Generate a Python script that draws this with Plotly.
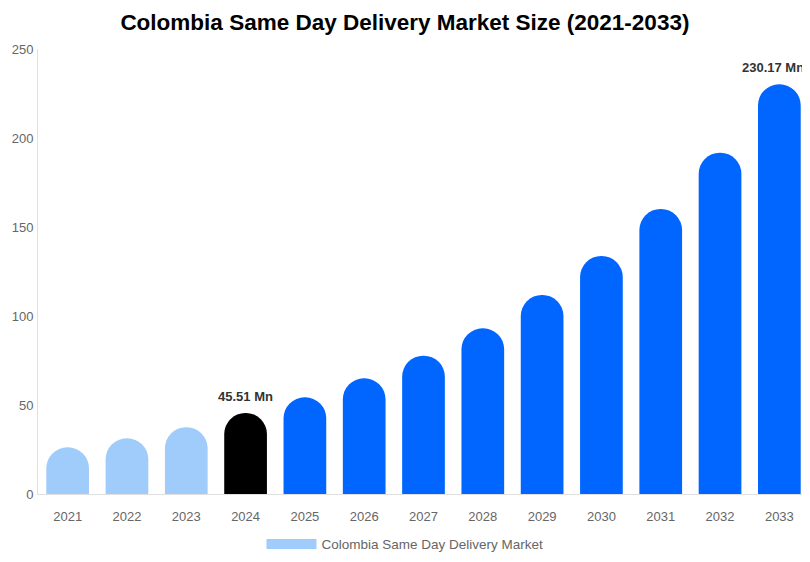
import plotly.graph_objects as go

years = ["2021", "2022", "2023", "2024", "2025", "2026", "2027",
         "2028", "2029", "2030", "2031", "2032", "2033"]
market_size = [26.2, 31.3, 37.5, 45.51, 54.3, 65.0, 77.7,
               93.1, 111.8, 133.7, 160.1, 191.7, 230.17]
bar_colors = ["#A0CCFB"] * 3 + ["#000000"] + ["#0066FF"] * 9
labeled_years = ["2024", "2033"]
series_name = "Colombia Same Day Delivery Market"

fig = go.Figure()
fig.add_trace(
    go.Bar(
        x=years,
        y=market_size,
        name=series_name,
        marker=dict(color=bar_colors, cornerradius="50%", line=dict(width=0)),
        width=0.72,
        showlegend=False,
        hoverinfo="x+y",
    )
)

# entrada de leyenda con rectangulo ancho
fig.add_trace(
    go.Scatter(
        x=[None], y=[None], mode="lines", name=series_name,
        line=dict(color=bar_colors[0], width=14),
        showlegend=True, hoverinfo="skip",
    )
)

# etiquetas de valor (en eje de categorias se usa el indice)
for yr, dx in zip(labeled_years, [0, -6]):
    i = years.index(yr)
    val = market_size[i]
    fig.add_annotation(
        x=i, y=val, text="<b>%.2f Mn</b>" % val,
        showarrow=False, yanchor="bottom", yshift=7, xshift=dx,
        font=dict(family="Liberation Sans, Arial", size=13, color="#333333"),
    )

fig.update_layout(
    title=dict(
        text="<b>Colombia Same Day Delivery Market Size (2021-2033)</b>",
        x=0.49, xanchor="center", y=0.975, yanchor="middle",
        font=dict(family="Liberation Sans, Arial", size=22.5, color="#000000"),
    ),
    width=810,
    height=562,
    margin=dict(l=30, r=9, t=41, b=76),
    plot_bgcolor="white",
    paper_bgcolor="white",
    font=dict(family="Liberation Sans, Arial", size=13, color="#666666"),
    legend=dict(
        orientation="h", x=0.476, xanchor="center", y=-0.078, yanchor="top",
        itemwidth=50,
        font=dict(size=13.5, color="#666666"),
    ),
    xaxis=dict(
        type="category", automargin=False,
        showgrid=False, showline=True, linecolor="#E0E0E0", linewidth=1,
        ticks="", ticklabelstandoff=10, tickfont=dict(size=13, color="#666666"),
    ),
    yaxis=dict(
        range=[0, 250], dtick=50, showgrid=False, zeroline=False,
        automargin=False,
        showline=True, linecolor="#E0E0E0", linewidth=1,
        ticks="", ticklabelstandoff=1, tickfont=dict(size=13, color="#666666"),
    ),
)

fig.write_html("out.html")
